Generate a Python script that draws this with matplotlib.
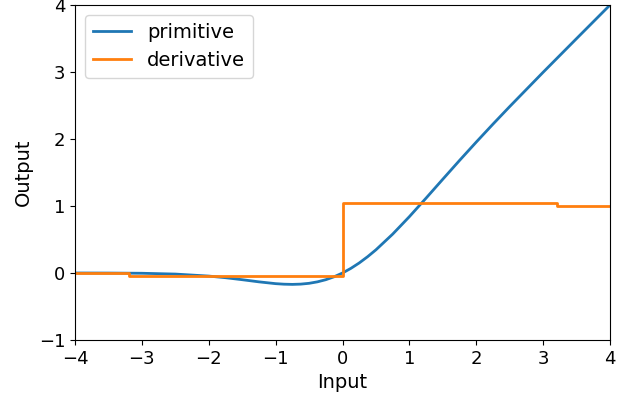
import matplotlib
matplotlib.use("Agg")
import matplotlib.pyplot as plt

# --- DATA ---
prim_x = [-4.0, -3.5, -3.0, -2.5, -2.0, -1.75, -1.5, -1.25, -1.0, -0.875, -0.75,
          -0.625, -0.5, -0.375, -0.25, -0.125, 0.0, 0.125, 0.25, 0.375, 0.5,
          0.75, 1.0, 1.25, 1.5, 1.75, 2.0, 2.25, 2.5, 3.0, 3.5, 4.0]
prim_y = [0.0, -0.001, -0.004, -0.016, -0.046, -0.070, -0.100, -0.132, -0.159, -0.167, -0.170,
          -0.166, -0.154, -0.132, -0.100, -0.056, 0.0, 0.069, 0.150, 0.243, 0.346,
          0.580, 0.841, 1.118, 1.400, 1.680, 1.954, 2.222, 2.484, 2.996, 3.499, 4.0]

deriv_x = [-4.0, -3.2, 0.0, 3.2, 4.0]
deriv_y = [0.0, -0.045, 1.045, 1.0, 1.0]

plt.rcParams['font.size'] = 14
plt.rcParams['xtick.labelsize'] = 13
plt.rcParams['ytick.labelsize'] = 13

fig = plt.figure(figsize=(6.21, 4.0), dpi=100)
ax = fig.add_axes([75 / 621, 60 / 400, 535 / 621, 335 / 400])

ax.plot(prim_x, prim_y, color='#1f77b4', linewidth=2, label='primitive')
ax.plot(deriv_x, deriv_y, color='#ff7f0e', linewidth=2, drawstyle='steps-post', label='derivative')

ax.set_xlim(-4, 4)
ax.set_ylim(-1, 4)
ax.set_xlabel('Input')
ax.set_ylabel('Output')
ax.legend(loc='upper left')

fig.savefig('out.png', dpi=100)
